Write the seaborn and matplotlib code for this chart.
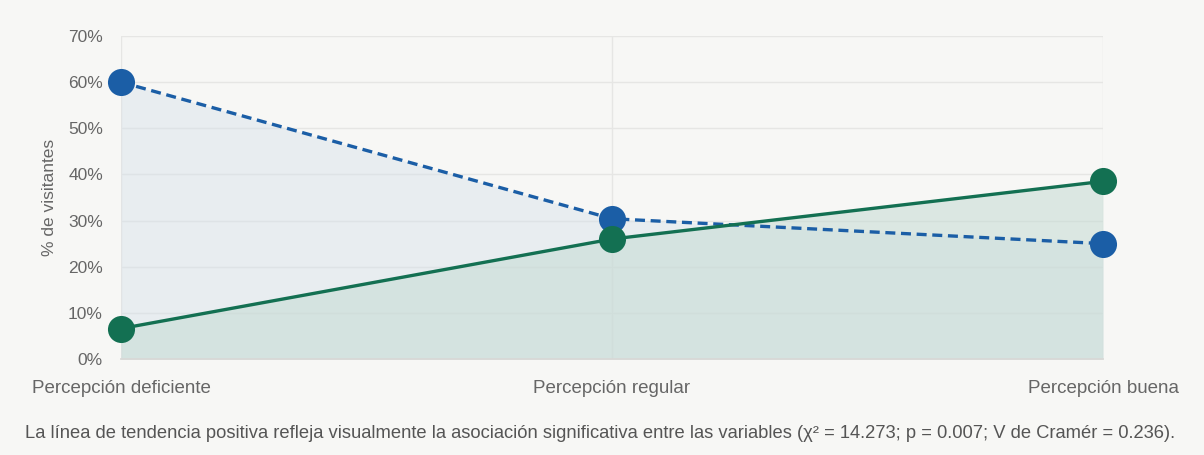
import pandas as pd
import matplotlib.pyplot as plt
import seaborn as sns

# data
categories = ["Percepción deficiente", "Percepción regular", "Percepción buena"]
serie_azul = [60.0, 30.4, 25.0]
serie_verde = [6.6, 26.0, 38.5]
y_ticks = [0, 10, 20, 30, 40, 50, 60, 70]

azul = "#1b5ea6"
verde = "#137052"
bg = "#f7f7f5"
grid_c = "#e6e6e4"

sns.set_theme(style="white")
plt.rcParams['font.family'] = ['Liberation Sans', 'DejaVu Sans']

df = pd.DataFrame({
    "x": list(range(len(categories))) * 2,
    "valor": serie_azul + serie_verde,
    "serie": ["azul"] * 3 + ["verde"] * 3,
})

fig = plt.figure(figsize=(12.04, 4.55), dpi=100, facecolor=bg)
ax = fig.add_axes([121 / 1204, 96 / 455, 982 / 1204, 323 / 455])
ax.set_facecolor(bg)

xs = list(range(len(categories)))
ax.fill_between(xs, serie_azul, 0, color="#d6e1ea", alpha=0.45, lw=0, zorder=1)
ax.fill_between(xs, serie_verde, 0, color="#c5dbd3", alpha=0.55, lw=0, zorder=1)

sns.lineplot(data=df[df.serie == "azul"], x="x", y="valor", ax=ax, color=azul,
             lw=2.4, linestyle=(0, (3.0, 1.7)), marker="o", markersize=19.5,
             markeredgewidth=0, zorder=3)
sns.lineplot(data=df[df.serie == "verde"], x="x", y="valor", ax=ax, color=verde,
             lw=2.4, marker="o", markersize=19.5, markeredgewidth=0, zorder=4)

ax.set_xlim(0, 2)
ax.set_ylim(0, 70)
ax.set_yticks(y_ticks)
ax.set_yticklabels([f"{t}%" for t in y_ticks])
ax.set_xticks(xs)
ax.set_xticklabels(categories)
for ln in ax.lines:
    ln.set_clip_on(False)

ax.grid(True, color=grid_c, lw=1)
ax.set_axisbelow(True)
for s in ["top", "right", "left"]:
    ax.spines[s].set_visible(False)
ax.spines["bottom"].set_color("#d8d8d6")
ax.tick_params(axis="both", length=9, color=grid_c, labelcolor="#666666")
ax.tick_params(axis="x", pad=6, labelsize=13.5)
ax.tick_params(axis="y", pad=4, labelsize=12.5)

ax.set_xlabel("")
ax.set_ylabel("% de visitantes", fontsize=12.5, color="#666666", labelpad=8)

fig.text(25 / 1204, 1 - 433 / 455,
         "La línea de tendencia positiva refleja visualmente la asociación significativa entre las variables "
         "(χ² = 14.273; p = 0.007; V de Cramér = 0.236).",
         fontsize=13.2, color="#555555", va="center", ha="left")

fig.savefig("out.png", dpi=100, facecolor=bg)
